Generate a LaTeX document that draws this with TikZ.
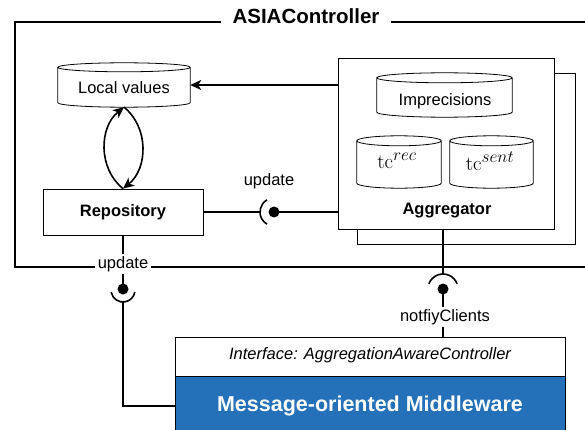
\documentclass[tikz,border=0pt]{standalone}
\usepackage[no-math]{fontspec}
\setmainfont{Liberation Sans}
\usetikzlibrary{calc,arrows.meta}
\definecolor{momblue}{RGB}{36,113,185}
\newcommand\drawcyl[2]{%
  \draw[boxline] let \p1=(#1.north west), \p2=(#1.south east), \n1={(\x2-\x1)/2} in
    (\x1,\y1-#2) -- (\x1,\y2+#2)
    arc[start angle=180, end angle=360, x radius=\n1, y radius=#2]
    -- (\x2,\y1-#2)
    arc[start angle=0, end angle=180, x radius=\n1, y radius=#2]
    arc[start angle=180, end angle=360, x radius=\n1, y radius=#2];
}
\newcommand\tcsup[1]{$\mathrm{tc}^{\hbox{\fontsize{19}{22}\selectfont$#1$}}$}
\begin{document}
\begin{tikzpicture}[x=1pt,y=1pt,
  frame/.style={line width=1.8pt},
  conn/.style={line width=1.6pt},
  boxline/.style={line width=0.8pt},
  arr/.style={-{Stealth[length=11pt,width=10pt,inset=3pt]}},
  txt/.style={font=\fontsize{16.5}{19}\selectfont},
  lbl/.style={txt, fill=white, inner xsep=3pt, inner ysep=2pt},
  box/.style={boxline, draw, fill=white, inner sep=0pt},
  cylnode/.style={inner sep=0pt},
  tcfont/.style={font=\fontsize{21}{24}\selectfont}]
\useasboundingbox (0,0) rectangle (585,-430);

% outer frame
\draw[frame] (585,-22) -- (15,-22) -- (15,-267) -- (585,-267);
\node[fill=white, inner xsep=12pt, inner ysep=4pt, anchor=base,
      font=\fontsize{20.5}{24}\selectfont\bfseries] (title) at (306,-24) {ASIAController};

% aggregator
\node[box, minimum width=218, minimum height=171] (aggback) at (466,-158.5) {};
\node[box, minimum width=216, minimum height=171] (agg) at (446,-143.5) {};
\node[txt, font=\fontsize{16.5}{19}\selectfont\bfseries] (agglbl) at (447,-211) {Aggregator};

\node[cylnode, minimum width=135, minimum height=44] (imp) at (444.5,-95) {};
\drawcyl{imp}{5pt}
\node[txt] (implbl) at (445,-101) {Imprecisions};
\node[cylnode, minimum width=84, minimum height=52] (tcrec) at (399,-162) {};
\drawcyl{tcrec}{5pt}
\node[tcfont] (tcreclbl) at (397,-161) {\tcsup{rec}};
\node[cylnode, minimum width=83, minimum height=52] (tcsent) at (491.5,-162) {};
\drawcyl{tcsent}{5pt}
\node[tcfont] (tcsentlbl) at (490,-161) {\tcsup{sent}};

% local values and repository
\node[cylnode, minimum width=132, minimum height=44] (lv) at (124,-85) {};
\drawcyl{lv}{4.5pt}
\node[txt] (lvlbl) at (124,-88) {Local values};
\node[box, minimum width=160, minimum height=46, font=\fontsize{16.5}{19}\selectfont\bfseries] (rep) at (123,-212) {Repository};

% arrows
\draw[conn, arr] (agg.north west |- lv.east) -- (lv.east);
\draw[conn, arr] (rep.north) .. controls +(-25,20) and +(-25,-20) .. (lv.south);
\draw[conn, arr] (lv.south) .. controls +(25,-20) and +(25,20) .. (rep.north);

% repository - aggregator update
\coordinate (b1) at (274,-212);
\draw[conn] (rep.east) -- ($(b1)+(-14,0)$);
\draw[conn] ($(b1)+(120:14)$) arc[start angle=120, end angle=240, radius=14];
\draw[conn] (b1) -- (agg.west |- b1);
\fill (b1) circle[radius=5.5];
\node[txt] (upd1) at (269,-181) {update};

% middleware
\node[box, minimum width=390, minimum height=39] (iface) at (370,-356.5) {};
\node[txt, font=\fontsize{16.5}{19}\selectfont\itshape] (ifacelbl) at (370,-355) {Interface: AggregationAwareController};
\node[boxline, draw=black, fill=momblue, minimum width=390, minimum height=60, inner sep=0pt,
      text=white, font=\fontsize{21.5}{25}\selectfont\bfseries] (mom) at (370,-406) {Message-oriented Middleware};

% lower-left update
\coordinate (b2) at (123,-289);
\draw[conn] (rep.south) -- (b2);
\node[lbl] (upd2) at (123,-264) {update};
\draw[conn] ($(b2)+(190:12)+(0,-1)$) arc[start angle=190, end angle=350, radius=12];
\draw[conn] ($(b2)+(0,-13)$) |- (mom.west);
\fill (b2) circle[radius=5.5];

% lower-right notifyClients
\coordinate (b3) at (443,-289);
\draw[conn] (agg.south -| b3) -- ($(b3)+(0,15)$);
\draw[conn] ($(b3)+(20:15)$) arc[start angle=20, end angle=160, radius=15];
\draw[conn] (b3) -- (b3 |- iface.north);
\fill (b3) circle[radius=5.5];
\node[lbl] (notif) at (445,-317) {notfiyClients};
\end{tikzpicture}
\end{document}
